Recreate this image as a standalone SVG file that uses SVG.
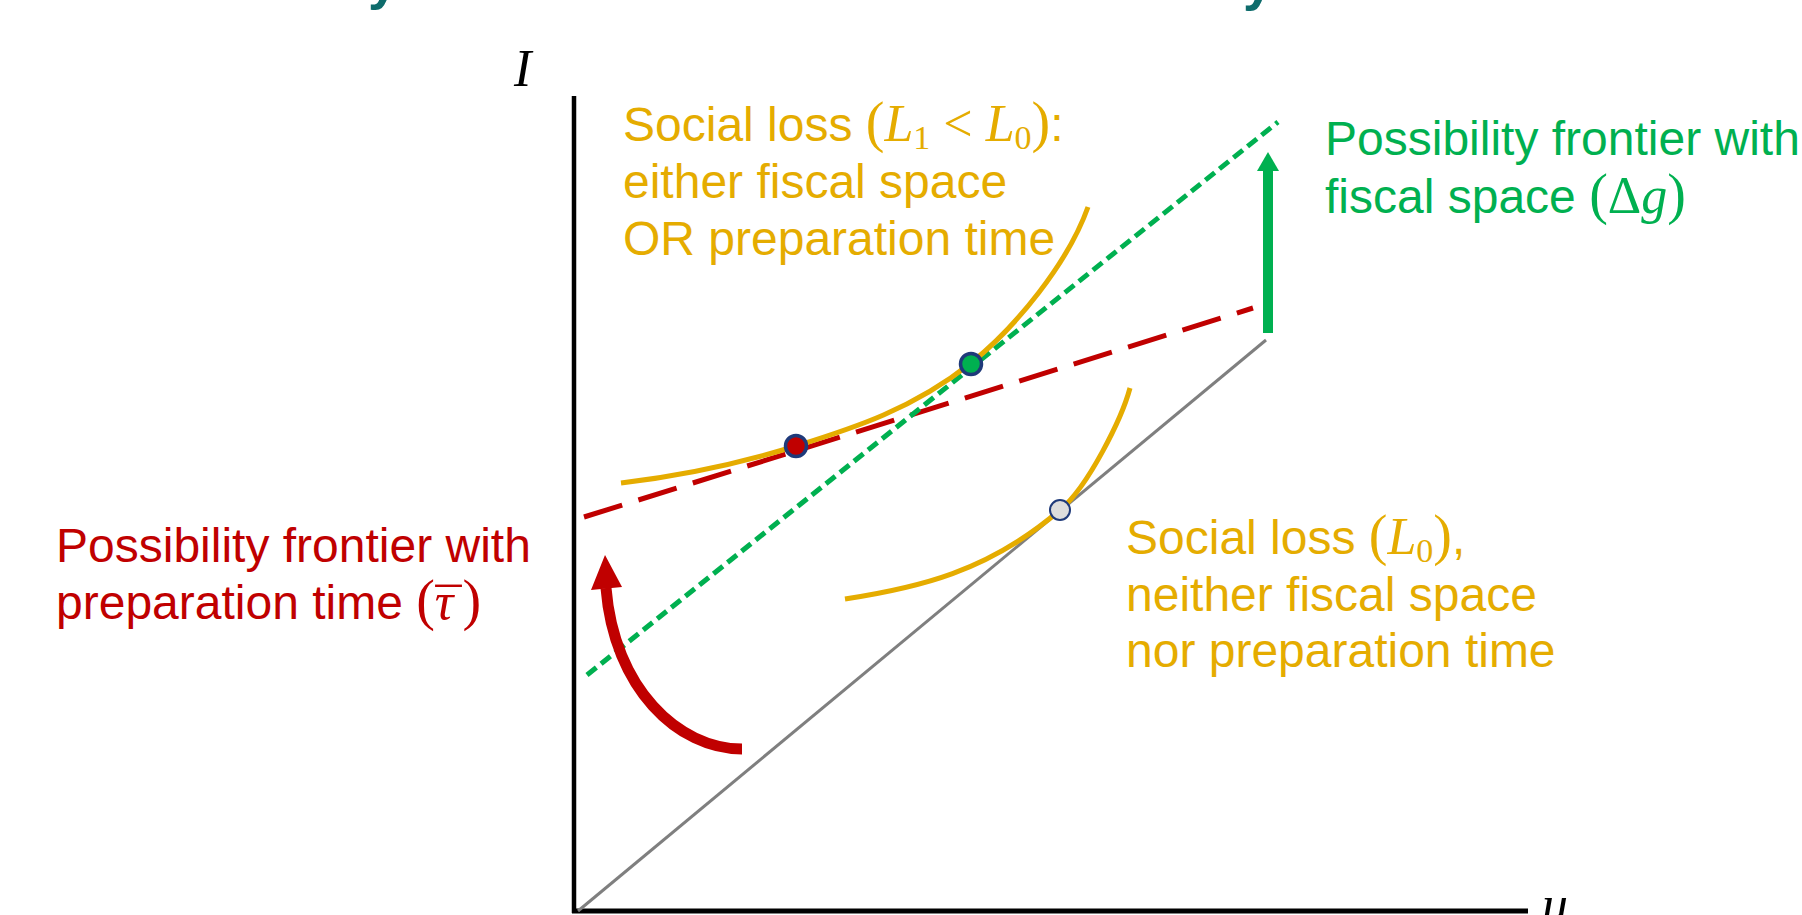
<svg xmlns="http://www.w3.org/2000/svg" width="1802" height="915" viewBox="0 0 1802 915">
<style>
.sans{font-family:"Liberation Sans",Arial,sans-serif;font-size:48px}
.m{font-family:"Liberation Serif","Times New Roman",serif;font-size:52px;font-style:normal}
.p{font-family:"Liberation Serif","Times New Roman",serif;font-size:56px;font-style:normal}
.mi{font-family:"Liberation Serif","Times New Roman",serif;font-style:italic;font-size:52px}
.sub{font-family:"Liberation Serif","Times New Roman",serif;font-size:34px;font-style:normal}
.yel{fill:#E5AC00}
.grn{fill:#00B050}
.red{fill:#C00000}
.ic{fill:none;stroke:#E5AC00;stroke-width:5}
.pt{stroke:#1F3A7A;stroke-width:3.5}
.title{font-family:"Liberation Sans",Arial,sans-serif;font-size:54px;font-weight:bold;fill:#0E6C6C}
</style>
<rect width="1802" height="915" fill="#ffffff"/>
<g id="title-fragments">
<text class="title" x="368" y="-1">y</text>
<text class="title" x="1243" y="0">y</text>
</g>
<g id="axes">
<line x1="574" y1="96" x2="574" y2="913" stroke="#000" stroke-width="4.5"/>
<line x1="572" y1="911" x2="1528" y2="911" stroke="#000" stroke-width="5"/>
<text class="mi" x="514" y="86" fill="#000">I</text>
<text class="mi" x="1542" y="922" fill="#000" font-size="44">u</text>
</g>
<g id="connectors">
<line id="base-frontier" x1="578" y1="911" x2="1266" y2="340" stroke="#7F7F7F" stroke-width="3"/>
<line id="prep-frontier" x1="584" y1="517" x2="1253" y2="308" stroke="#C00000" stroke-width="5" stroke-dasharray="40 17"/>
<line id="fiscal-frontier" x1="587" y1="675" x2="1278" y2="122" stroke="#00B050" stroke-width="5" stroke-dasharray="12 6"/>
<path id="loss-L1" class="ic" d="M621,483 C679,476 738,464 796,446 C854,428 913,409 971,363 C1016,327 1068,263 1088,207"/>
<path id="loss-L0" class="ic" d="M845,599 C917,588 988,572 1060,510 C1088,487 1122,418 1130,388"/>
<g id="fiscal-shift">
<line x1="1268" y1="333" x2="1268" y2="168" stroke="#00B050" stroke-width="10"/>
<polygon points="1268,152 1257,171 1279,171" fill="#00B050"/>
</g>
<g id="prep-shift">
<path d="M742,749 C678,749 614,688 606,588" fill="none" stroke="#C00000" stroke-width="11"/>
<polygon points="605,555 591,590 622,587" fill="#C00000"/>
</g>
</g>
<g id="points">
<circle id="pt-red" cx="796" cy="446" r="10.5" fill="#C00000" class="pt"/>
<circle id="pt-green" cx="971" cy="364" r="10.5" fill="#00B050" class="pt"/>
<circle id="pt-gray" cx="1060" cy="510" r="10" fill="#DDDDDD" stroke="#1F3A7A" stroke-width="2"/>
</g>
<g id="label-L1">
<text class="sans yel" x="623" y="141">Social loss <tspan class="p">(</tspan><tspan class="mi">L</tspan><tspan class="sub" dy="8">1</tspan><tspan class="m" dy="-8"> &lt; </tspan><tspan class="mi">L</tspan><tspan class="sub" dy="8">0</tspan><tspan class="p" dy="-8">)</tspan>:</text>
<text class="sans yel" x="623" y="198">either fiscal space</text>
<text class="sans yel" x="623" y="255">OR preparation time</text>
</g>
<g id="label-fiscal">
<text class="sans grn" x="1325" y="155">Possibility frontier with</text>
<text class="sans grn" x="1325" y="213">fiscal space <tspan class="p">(</tspan><tspan class="m">Δ</tspan><tspan class="mi">g</tspan><tspan class="p">)</tspan></text>
</g>
<g id="label-prep">
<text class="sans red" x="56" y="562">Possibility frontier with</text>
<text class="sans red" x="56" y="619">preparation time <tspan class="p">(</tspan><tspan class="mi">τ</tspan><tspan class="m" dx="-18" dy="6">¯</tspan><tspan class="p" dx="1" dy="-6">)</tspan></text>
</g>
<g id="label-L0">
<text class="sans yel" x="1126" y="554">Social loss <tspan class="p">(</tspan><tspan class="mi">L</tspan><tspan class="sub" dy="8">0</tspan><tspan class="p" dy="-8">)</tspan>,</text>
<text class="sans yel" x="1126" y="611">neither fiscal space</text>
<text class="sans yel" x="1126" y="667">nor preparation time</text>
</g>
</svg>
